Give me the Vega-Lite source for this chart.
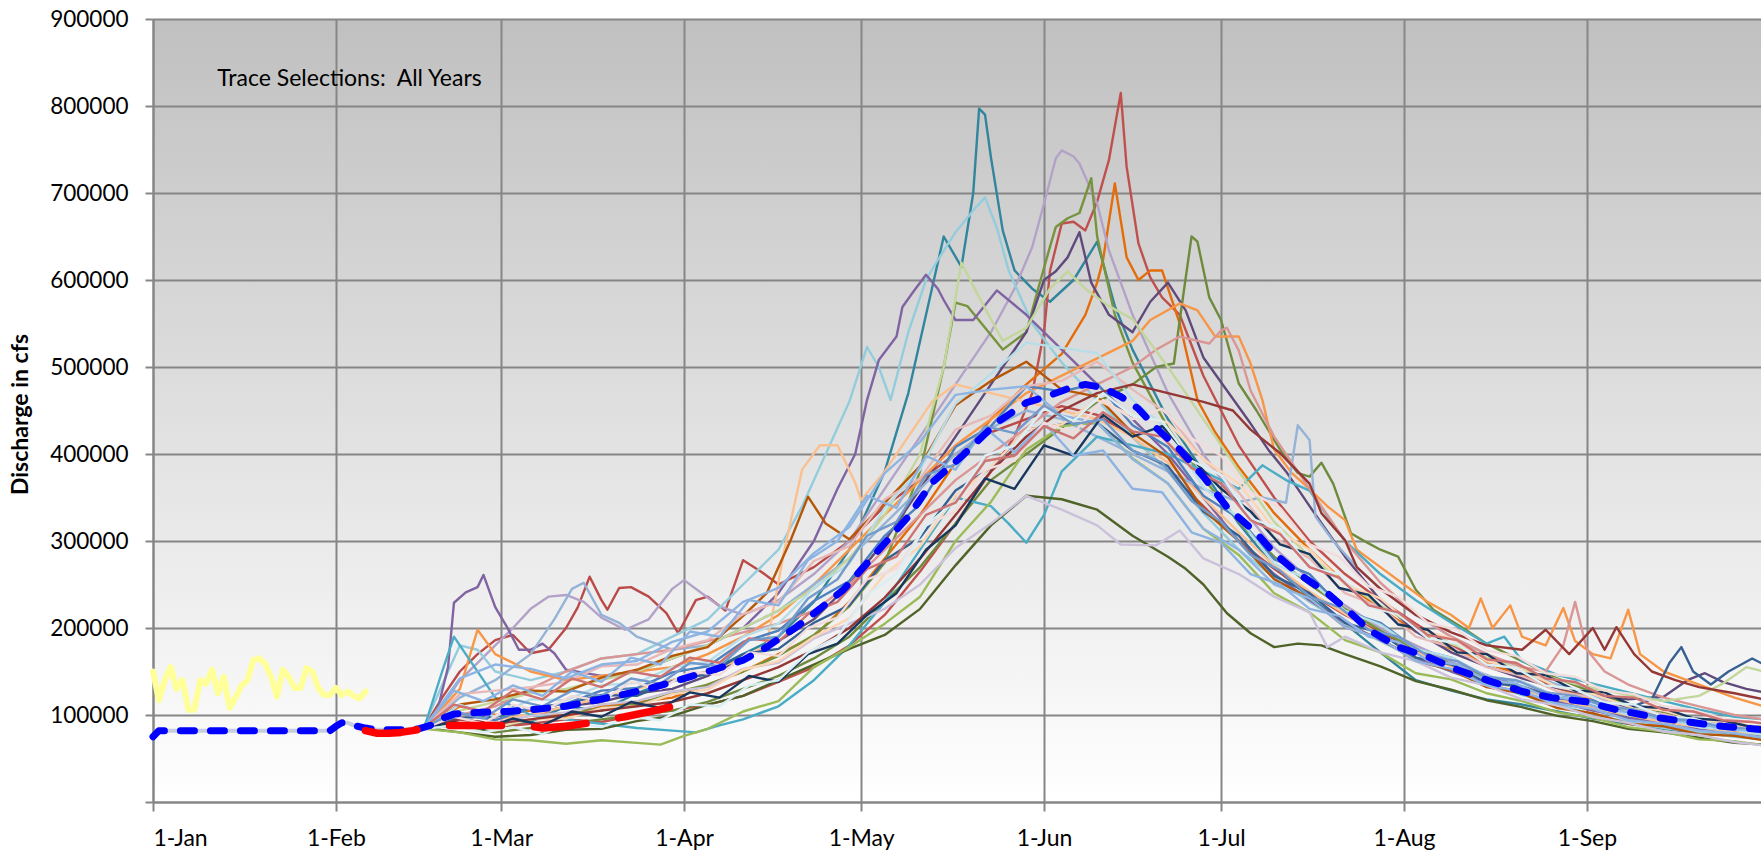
{
"$schema":"https://vega.github.io/schema/vega-lite/v6.json",
"width":1608,"height":783,
"autosize":{"type":"none"},
"padding":{"left":153,"top":19,"right":0,"bottom":49},
"background":"#ffffff",
"view":{"stroke":null,"fill":{"gradient":"linear","x1":0,"y1":0,"x2":0,"y2":1,"stops":[{"offset":0,"color":"#c0c0c0"},{"offset":1,"color":"#ffffff"}]}},
"config":{"font":"Lato","axis":{"domainColor":"#868686","domainWidth":2,"tickColor":"#868686","tickWidth":2,"gridColor":"#868686","gridWidth":2,"labelColor":"#000000","titleColor":"#000000","labelFont":"Lato","titleFont":"Lato"}},
"datasets":{
"tr":[
{"s":"A","d":46,"v":86000},{"s":"A","d":52,"v":95000},{"s":"A","d":58,"v":88000},{"s":"A","d":64,"v":92000},{"s":"A","d":70,"v":110000},{"s":"A","d":76,"v":105000},{"s":"A","d":82,"v":125000},{"s":"A","d":88,"v":140000},{"s":"A","d":94,"v":150000},{"s":"A","d":100,"v":170000},{"s":"A","d":106,"v":190000},{"s":"A","d":112,"v":230000},{"s":"A","d":118,"v":290000},{"s":"A","d":124,"v":380000},{"s":"A","d":128,"v":470000},{"s":"A","d":131,"v":560000},{"s":"A","d":134,"v":650000},{"s":"A","d":137,"v":615000},{"s":"A","d":139,"v":700000},{"s":"A","d":140,"v":797000},{"s":"A","d":141,"v":790000},{"s":"A","d":142,"v":741000},{"s":"A","d":144,"v":657000},{"s":"A","d":146,"v":611000},{"s":"A","d":149,"v":590000},{"s":"A","d":152,"v":575000},{"s":"A","d":156,"v":600000},{"s":"A","d":160,"v":644000},{"s":"A","d":163,"v":570000},{"s":"A","d":166,"v":520000},{"s":"A","d":172,"v":440000},{"s":"A","d":178,"v":380000},{"s":"A","d":184,"v":320000},{"s":"A","d":190,"v":270000},{"s":"A","d":196,"v":235000},{"s":"A","d":202,"v":205000},{"s":"A","d":208,"v":172000},{"s":"A","d":214,"v":140000},{"s":"A","d":220,"v":128000},{"s":"A","d":226,"v":118000},{"s":"A","d":232,"v":112000},{"s":"A","d":238,"v":104000},{"s":"A","d":244,"v":96000},{"s":"A","d":250,"v":90000},{"s":"A","d":256,"v":84000},{"s":"A","d":262,"v":79000},{"s":"A","d":268,"v":76000},{"s":"A","d":273,"v":74000},
{"s":"B","d":46,"v":84000},{"s":"B","d":52,"v":92000},{"s":"B","d":58,"v":86000},{"s":"B","d":64,"v":90000},{"s":"B","d":70,"v":95000},{"s":"B","d":76,"v":92000},{"s":"B","d":82,"v":100000},{"s":"B","d":88,"v":105000},{"s":"B","d":94,"v":112000},{"s":"B","d":100,"v":122000},{"s":"B","d":106,"v":138000},{"s":"B","d":112,"v":155000},{"s":"B","d":118,"v":180000},{"s":"B","d":124,"v":215000},{"s":"B","d":130,"v":265000},{"s":"B","d":136,"v":320000},{"s":"B","d":142,"v":380000},{"s":"B","d":146,"v":420000},{"s":"B","d":149,"v":470000},{"s":"B","d":151,"v":540000},{"s":"B","d":152,"v":610000},{"s":"B","d":154,"v":665000},{"s":"B","d":156,"v":667000},{"s":"B","d":158,"v":657000},{"s":"B","d":160,"v":690000},{"s":"B","d":162,"v":738000},{"s":"B","d":164,"v":815000},{"s":"B","d":165,"v":730000},{"s":"B","d":167,"v":642000},{"s":"B","d":169,"v":603000},{"s":"B","d":171,"v":580000},{"s":"B","d":174,"v":560000},{"s":"B","d":178,"v":490000},{"s":"B","d":184,"v":410000},{"s":"B","d":190,"v":350000},{"s":"B","d":196,"v":300000},{"s":"B","d":202,"v":262000},{"s":"B","d":208,"v":232000},{"s":"B","d":214,"v":205000},{"s":"B","d":220,"v":180000},{"s":"B","d":226,"v":162000},{"s":"B","d":232,"v":146000},{"s":"B","d":238,"v":132000},{"s":"B","d":244,"v":118000},{"s":"B","d":250,"v":107000},{"s":"B","d":256,"v":98000},{"s":"B","d":262,"v":91000},{"s":"B","d":268,"v":86000},{"s":"B","d":273,"v":83000},
{"s":"C","d":46,"v":86000},{"s":"C","d":49,"v":120000},{"s":"C","d":52,"v":150000},{"s":"C","d":55,"v":170000},{"s":"C","d":58,"v":186000},{"s":"C","d":61,"v":192000},{"s":"C","d":64,"v":171000},{"s":"C","d":67,"v":175000},{"s":"C","d":70,"v":200000},{"s":"C","d":72,"v":224000},{"s":"C","d":74,"v":259000},{"s":"C","d":76,"v":232000},{"s":"C","d":77,"v":221000},{"s":"C","d":79,"v":246000},{"s":"C","d":81,"v":247000},{"s":"C","d":84,"v":236000},{"s":"C","d":87,"v":217000},{"s":"C","d":89,"v":194000},{"s":"C","d":92,"v":232000},{"s":"C","d":94,"v":236000},{"s":"C","d":97,"v":220000},{"s":"C","d":100,"v":278000},{"s":"C","d":103,"v":265000},{"s":"C","d":106,"v":250000},{"s":"C","d":112,"v":270000},{"s":"C","d":118,"v":300000},{"s":"C","d":124,"v":340000},{"s":"C","d":130,"v":370000},{"s":"C","d":136,"v":400000},{"s":"C","d":142,"v":425000},{"s":"C","d":148,"v":440000},{"s":"C","d":154,"v":455000},{"s":"C","d":160,"v":445000},{"s":"C","d":166,"v":420000},{"s":"C","d":172,"v":380000},{"s":"C","d":178,"v":340000},{"s":"C","d":184,"v":300000},{"s":"C","d":190,"v":268000},{"s":"C","d":196,"v":240000},{"s":"C","d":202,"v":215000},{"s":"C","d":208,"v":195000},{"s":"C","d":214,"v":175000},{"s":"C","d":220,"v":160000},{"s":"C","d":226,"v":145000},{"s":"C","d":232,"v":132000},{"s":"C","d":238,"v":121000},{"s":"C","d":244,"v":110000},{"s":"C","d":250,"v":101000},{"s":"C","d":256,"v":93000},{"s":"C","d":262,"v":87000},{"s":"C","d":268,"v":81000},{"s":"C","d":273,"v":78000},
{"s":"D","d":46,"v":85000},{"s":"D","d":52,"v":110000},{"s":"D","d":58,"v":100000},{"s":"D","d":64,"v":105000},{"s":"D","d":70,"v":98000},{"s":"D","d":76,"v":110000},{"s":"D","d":82,"v":115000},{"s":"D","d":88,"v":120000},{"s":"D","d":94,"v":135000},{"s":"D","d":100,"v":150000},{"s":"D","d":106,"v":170000},{"s":"D","d":112,"v":190000},{"s":"D","d":118,"v":230000},{"s":"D","d":124,"v":280000},{"s":"D","d":130,"v":330000},{"s":"D","d":136,"v":390000},{"s":"D","d":142,"v":440000},{"s":"D","d":148,"v":480000},{"s":"D","d":154,"v":515000},{"s":"D","d":158,"v":560000},{"s":"D","d":160,"v":597000},{"s":"D","d":161,"v":623000},{"s":"D","d":163,"v":711000},{"s":"D","d":165,"v":626000},{"s":"D","d":167,"v":600000},{"s":"D","d":169,"v":611000},{"s":"D","d":171,"v":611000},{"s":"D","d":174,"v":550000},{"s":"D","d":177,"v":462000},{"s":"D","d":180,"v":425000},{"s":"D","d":184,"v":385000},{"s":"D","d":190,"v":332000},{"s":"D","d":196,"v":290000},{"s":"D","d":202,"v":252000},{"s":"D","d":208,"v":222000},{"s":"D","d":214,"v":196000},{"s":"D","d":220,"v":176000},{"s":"D","d":226,"v":160000},{"s":"D","d":232,"v":145000},{"s":"D","d":238,"v":131000},{"s":"D","d":244,"v":118000},{"s":"D","d":250,"v":106000},{"s":"D","d":256,"v":97000},{"s":"D","d":262,"v":89000},{"s":"D","d":268,"v":83000},{"s":"D","d":273,"v":80000},
{"s":"E","d":46,"v":88000},{"s":"E","d":49,"v":110000},{"s":"E","d":52,"v":140000},{"s":"E","d":55,"v":160000},{"s":"E","d":58,"v":180000},{"s":"E","d":61,"v":200000},{"s":"E","d":64,"v":222000},{"s":"E","d":67,"v":236000},{"s":"E","d":70,"v":238000},{"s":"E","d":73,"v":230000},{"s":"E","d":76,"v":212000},{"s":"E","d":80,"v":198000},{"s":"E","d":84,"v":210000},{"s":"E","d":88,"v":245000},{"s":"E","d":90,"v":255000},{"s":"E","d":93,"v":240000},{"s":"E","d":96,"v":225000},{"s":"E","d":100,"v":215000},{"s":"E","d":106,"v":232000},{"s":"E","d":112,"v":262000},{"s":"E","d":118,"v":300000},{"s":"E","d":124,"v":360000},{"s":"E","d":130,"v":420000},{"s":"E","d":136,"v":480000},{"s":"E","d":142,"v":540000},{"s":"E","d":146,"v":590000},{"s":"E","d":149,"v":638000},{"s":"E","d":151,"v":688000},{"s":"E","d":153,"v":740000},{"s":"E","d":154,"v":749000},{"s":"E","d":156,"v":742000},{"s":"E","d":157,"v":734000},{"s":"E","d":160,"v":688000},{"s":"E","d":162,"v":634000},{"s":"E","d":166,"v":560000},{"s":"E","d":172,"v":470000},{"s":"E","d":178,"v":400000},{"s":"E","d":184,"v":342000},{"s":"E","d":190,"v":292000},{"s":"E","d":196,"v":256000},{"s":"E","d":202,"v":226000},{"s":"E","d":208,"v":200000},{"s":"E","d":214,"v":180000},{"s":"E","d":220,"v":161000},{"s":"E","d":226,"v":146000},{"s":"E","d":232,"v":131000},{"s":"E","d":238,"v":118000},{"s":"E","d":244,"v":106000},{"s":"E","d":250,"v":96000},{"s":"E","d":256,"v":88000},{"s":"E","d":262,"v":82000},{"s":"E","d":268,"v":76000},{"s":"E","d":273,"v":73000},
{"s":"F","d":46,"v":84000},{"s":"F","d":52,"v":90000},{"s":"F","d":58,"v":85000},{"s":"F","d":64,"v":95000},{"s":"F","d":70,"v":100000},{"s":"F","d":76,"v":108000},{"s":"F","d":82,"v":112000},{"s":"F","d":88,"v":125000},{"s":"F","d":94,"v":135000},{"s":"F","d":100,"v":150000},{"s":"F","d":106,"v":168000},{"s":"F","d":112,"v":192000},{"s":"F","d":118,"v":225000},{"s":"F","d":124,"v":275000},{"s":"F","d":130,"v":380000},{"s":"F","d":134,"v":500000},{"s":"F","d":136,"v":574000},{"s":"F","d":138,"v":570000},{"s":"F","d":141,"v":545000},{"s":"F","d":144,"v":520000},{"s":"F","d":148,"v":540000},{"s":"F","d":150,"v":590000},{"s":"F","d":152,"v":638000},{"s":"F","d":153,"v":661000},{"s":"F","d":155,"v":671000},{"s":"F","d":157,"v":677000},{"s":"F","d":159,"v":717000},{"s":"F","d":160,"v":650000},{"s":"F","d":163,"v":560000},{"s":"F","d":166,"v":505000},{"s":"F","d":172,"v":430000},{"s":"F","d":178,"v":372000},{"s":"F","d":184,"v":322000},{"s":"F","d":190,"v":282000},{"s":"F","d":196,"v":250000},{"s":"F","d":202,"v":222000},{"s":"F","d":208,"v":197000},{"s":"F","d":214,"v":176000},{"s":"F","d":220,"v":158000},{"s":"F","d":226,"v":143000},{"s":"F","d":232,"v":130000},{"s":"F","d":238,"v":118000},{"s":"F","d":244,"v":107000},{"s":"F","d":250,"v":98000},{"s":"F","d":256,"v":90000},{"s":"F","d":262,"v":83000},{"s":"F","d":268,"v":78000},{"s":"F","d":273,"v":76000},
{"s":"G","d":46,"v":85000},{"s":"G","d":52,"v":88000},{"s":"G","d":58,"v":80000},{"s":"G","d":64,"v":85000},{"s":"G","d":70,"v":90000},{"s":"G","d":76,"v":95000},{"s":"G","d":82,"v":100000},{"s":"G","d":88,"v":105000},{"s":"G","d":94,"v":115000},{"s":"G","d":100,"v":130000},{"s":"G","d":106,"v":145000},{"s":"G","d":112,"v":165000},{"s":"G","d":118,"v":190000},{"s":"G","d":124,"v":230000},{"s":"G","d":130,"v":270000},{"s":"G","d":136,"v":320000},{"s":"G","d":142,"v":370000},{"s":"G","d":148,"v":400000},{"s":"G","d":154,"v":430000},{"s":"G","d":160,"v":460000},{"s":"G","d":166,"v":480000},{"s":"G","d":170,"v":500000},{"s":"G","d":173,"v":504000},{"s":"G","d":174,"v":554000},{"s":"G","d":176,"v":650000},{"s":"G","d":177,"v":644000},{"s":"G","d":179,"v":580000},{"s":"G","d":181,"v":554000},{"s":"G","d":184,"v":481000},{"s":"G","d":187,"v":450000},{"s":"G","d":191,"v":405000},{"s":"G","d":194,"v":378000},{"s":"G","d":196,"v":374000},{"s":"G","d":198,"v":390000},{"s":"G","d":200,"v":366000},{"s":"G","d":203,"v":309000},{"s":"G","d":205,"v":301000},{"s":"G","d":208,"v":290000},{"s":"G","d":211,"v":282000},{"s":"G","d":214,"v":244000},{"s":"G","d":217,"v":221000},{"s":"G","d":222,"v":200000},{"s":"G","d":226,"v":182000},{"s":"G","d":232,"v":162000},{"s":"G","d":238,"v":142000},{"s":"G","d":244,"v":126000},{"s":"G","d":250,"v":113000},{"s":"G","d":256,"v":103000},{"s":"G","d":262,"v":95000},{"s":"G","d":268,"v":89000},{"s":"G","d":273,"v":86000},
{"s":"H","d":46,"v":88000},{"s":"H","d":50,"v":150000},{"s":"H","d":52,"v":180000},{"s":"H","d":55,"v":175000},{"s":"H","d":58,"v":150000},{"s":"H","d":64,"v":140000},{"s":"H","d":70,"v":150000},{"s":"H","d":76,"v":165000},{"s":"H","d":82,"v":170000},{"s":"H","d":88,"v":190000},{"s":"H","d":94,"v":210000},{"s":"H","d":100,"v":250000},{"s":"H","d":106,"v":290000},{"s":"H","d":110,"v":340000},{"s":"H","d":114,"v":400000},{"s":"H","d":118,"v":460000},{"s":"H","d":121,"v":523000},{"s":"H","d":123,"v":500000},{"s":"H","d":125,"v":462000},{"s":"H","d":128,"v":540000},{"s":"H","d":131,"v":600000},{"s":"H","d":133,"v":623000},{"s":"H","d":136,"v":655000},{"s":"H","d":139,"v":680000},{"s":"H","d":141,"v":695000},{"s":"H","d":143,"v":660000},{"s":"H","d":145,"v":611000},{"s":"H","d":149,"v":550000},{"s":"H","d":154,"v":505000},{"s":"H","d":160,"v":462000},{"s":"H","d":166,"v":420000},{"s":"H","d":172,"v":380000},{"s":"H","d":178,"v":332000},{"s":"H","d":184,"v":290000},{"s":"H","d":190,"v":258000},{"s":"H","d":196,"v":230000},{"s":"H","d":202,"v":205000},{"s":"H","d":208,"v":185000},{"s":"H","d":214,"v":165000},{"s":"H","d":220,"v":150000},{"s":"H","d":226,"v":136000},{"s":"H","d":232,"v":123000},{"s":"H","d":238,"v":112000},{"s":"H","d":244,"v":101000},{"s":"H","d":250,"v":92000},{"s":"H","d":256,"v":85000},{"s":"H","d":262,"v":80000},{"s":"H","d":268,"v":75000},{"s":"H","d":273,"v":72000},
{"s":"I","d":46,"v":86000},{"s":"I","d":48,"v":100000},{"s":"I","d":50,"v":155000},{"s":"I","d":51,"v":229000},{"s":"I","d":53,"v":241000},{"s":"I","d":55,"v":247000},{"s":"I","d":56,"v":261000},{"s":"I","d":58,"v":224000},{"s":"I","d":60,"v":201000},{"s":"I","d":62,"v":175000},{"s":"I","d":64,"v":175000},{"s":"I","d":66,"v":182000},{"s":"I","d":68,"v":171000},{"s":"I","d":70,"v":152000},{"s":"I","d":76,"v":145000},{"s":"I","d":82,"v":150000},{"s":"I","d":88,"v":165000},{"s":"I","d":94,"v":180000},{"s":"I","d":100,"v":200000},{"s":"I","d":106,"v":240000},{"s":"I","d":112,"v":300000},{"s":"I","d":116,"v":360000},{"s":"I","d":119,"v":400000},{"s":"I","d":121,"v":462000},{"s":"I","d":123,"v":508000},{"s":"I","d":126,"v":535000},{"s":"I","d":127,"v":569000},{"s":"I","d":129,"v":588000},{"s":"I","d":131,"v":606000},{"s":"I","d":133,"v":590000},{"s":"I","d":134,"v":577000},{"s":"I","d":136,"v":554000},{"s":"I","d":139,"v":554000},{"s":"I","d":143,"v":588000},{"s":"I","d":148,"v":560000},{"s":"I","d":154,"v":520000},{"s":"I","d":160,"v":480000},{"s":"I","d":166,"v":440000},{"s":"I","d":172,"v":400000},{"s":"I","d":178,"v":350000},{"s":"I","d":184,"v":300000},{"s":"I","d":190,"v":262000},{"s":"I","d":196,"v":232000},{"s":"I","d":202,"v":206000},{"s":"I","d":208,"v":186000},{"s":"I","d":214,"v":166000},{"s":"I","d":220,"v":150000},{"s":"I","d":226,"v":136000},{"s":"I","d":232,"v":125000},{"s":"I","d":238,"v":115000},{"s":"I","d":244,"v":105000},{"s":"I","d":250,"v":97000},{"s":"I","d":256,"v":90000},{"s":"I","d":262,"v":84000},{"s":"I","d":268,"v":79000},{"s":"I","d":273,"v":77000},
{"s":"J","d":46,"v":85000},{"s":"J","d":52,"v":95000},{"s":"J","d":58,"v":90000},{"s":"J","d":64,"v":100000},{"s":"J","d":70,"v":110000},{"s":"J","d":76,"v":115000},{"s":"J","d":82,"v":125000},{"s":"J","d":88,"v":130000},{"s":"J","d":94,"v":145000},{"s":"J","d":100,"v":165000},{"s":"J","d":106,"v":185000},{"s":"J","d":112,"v":210000},{"s":"J","d":118,"v":250000},{"s":"J","d":124,"v":300000},{"s":"J","d":130,"v":360000},{"s":"J","d":136,"v":420000},{"s":"J","d":142,"v":480000},{"s":"J","d":148,"v":540000},{"s":"J","d":151,"v":600000},{"s":"J","d":153,"v":610000},{"s":"J","d":155,"v":626000},{"s":"J","d":157,"v":655000},{"s":"J","d":159,"v":597000},{"s":"J","d":162,"v":560000},{"s":"J","d":166,"v":540000},{"s":"J","d":169,"v":575000},{"s":"J","d":172,"v":597000},{"s":"J","d":175,"v":565000},{"s":"J","d":178,"v":511000},{"s":"J","d":182,"v":473000},{"s":"J","d":186,"v":435000},{"s":"J","d":189,"v":405000},{"s":"J","d":192,"v":380000},{"s":"J","d":196,"v":340000},{"s":"J","d":202,"v":282000},{"s":"J","d":208,"v":232000},{"s":"J","d":214,"v":196000},{"s":"J","d":220,"v":172000},{"s":"J","d":226,"v":156000},{"s":"J","d":232,"v":142000},{"s":"J","d":238,"v":131000},{"s":"J","d":244,"v":123000},{"s":"J","d":250,"v":118000},{"s":"J","d":256,"v":121000},{"s":"J","d":260,"v":140000},{"s":"J","d":263,"v":148000},{"s":"J","d":266,"v":138000},{"s":"J","d":270,"v":130000},{"s":"J","d":273,"v":126000},
{"s":"K","d":46,"v":85000},{"s":"K","d":52,"v":130000},{"s":"K","d":55,"v":198000},{"s":"K","d":58,"v":170000},{"s":"K","d":64,"v":150000},{"s":"K","d":70,"v":140000},{"s":"K","d":76,"v":145000},{"s":"K","d":82,"v":150000},{"s":"K","d":88,"v":155000},{"s":"K","d":94,"v":170000},{"s":"K","d":100,"v":190000},{"s":"K","d":106,"v":215000},{"s":"K","d":112,"v":250000},{"s":"K","d":118,"v":290000},{"s":"K","d":124,"v":330000},{"s":"K","d":130,"v":370000},{"s":"K","d":136,"v":410000},{"s":"K","d":142,"v":440000},{"s":"K","d":148,"v":470000},{"s":"K","d":154,"v":490000},{"s":"K","d":160,"v":510000},{"s":"K","d":166,"v":530000},{"s":"K","d":169,"v":554000},{"s":"K","d":174,"v":573000},{"s":"K","d":177,"v":565000},{"s":"K","d":180,"v":535000},{"s":"K","d":184,"v":535000},{"s":"K","d":186,"v":504000},{"s":"K","d":188,"v":462000},{"s":"K","d":190,"v":405000},{"s":"K","d":193,"v":378000},{"s":"K","d":195,"v":366000},{"s":"K","d":199,"v":340000},{"s":"K","d":202,"v":324000},{"s":"K","d":204,"v":290000},{"s":"K","d":208,"v":270000},{"s":"K","d":212,"v":250000},{"s":"K","d":216,"v":230000},{"s":"K","d":220,"v":215000},{"s":"K","d":223,"v":200000},{"s":"K","d":225,"v":234000},{"s":"K","d":227,"v":200000},{"s":"K","d":230,"v":226000},{"s":"K","d":232,"v":190000},{"s":"K","d":236,"v":180000},{"s":"K","d":239,"v":223000},{"s":"K","d":241,"v":185000},{"s":"K","d":244,"v":170000},{"s":"K","d":247,"v":165000},{"s":"K","d":250,"v":221000},{"s":"K","d":252,"v":170000},{"s":"K","d":256,"v":150000},{"s":"K","d":262,"v":135000},{"s":"K","d":268,"v":120000},{"s":"K","d":273,"v":110000},
{"s":"L","d":46,"v":84000},{"s":"L","d":52,"v":100000},{"s":"L","d":58,"v":95000},{"s":"L","d":64,"v":100000},{"s":"L","d":70,"v":110000},{"s":"L","d":76,"v":120000},{"s":"L","d":82,"v":130000},{"s":"L","d":88,"v":140000},{"s":"L","d":94,"v":150000},{"s":"L","d":100,"v":165000},{"s":"L","d":104,"v":180000},{"s":"L","d":107,"v":290000},{"s":"L","d":110,"v":382000},{"s":"L","d":113,"v":410000},{"s":"L","d":116,"v":410000},{"s":"L","d":119,"v":367000},{"s":"L","d":120,"v":347000},{"s":"L","d":124,"v":380000},{"s":"L","d":128,"v":420000},{"s":"L","d":132,"v":460000},{"s":"L","d":136,"v":480000},{"s":"L","d":142,"v":470000},{"s":"L","d":148,"v":460000},{"s":"L","d":154,"v":450000},{"s":"L","d":160,"v":440000},{"s":"L","d":166,"v":420000},{"s":"L","d":172,"v":390000},{"s":"L","d":178,"v":350000},{"s":"L","d":184,"v":310000},{"s":"L","d":190,"v":272000},{"s":"L","d":196,"v":242000},{"s":"L","d":202,"v":216000},{"s":"L","d":208,"v":192000},{"s":"L","d":214,"v":172000},{"s":"L","d":220,"v":156000},{"s":"L","d":226,"v":141000},{"s":"L","d":232,"v":129000},{"s":"L","d":238,"v":118000},{"s":"L","d":244,"v":108000},{"s":"L","d":250,"v":100000},{"s":"L","d":256,"v":92000},{"s":"L","d":262,"v":86000},{"s":"L","d":268,"v":80000},{"s":"L","d":273,"v":78000},
{"s":"M","d":46,"v":86000},{"s":"M","d":52,"v":120000},{"s":"M","d":58,"v":140000},{"s":"M","d":64,"v":170000},{"s":"M","d":68,"v":210000},{"s":"M","d":71,"v":245000},{"s":"M","d":73,"v":252000},{"s":"M","d":76,"v":215000},{"s":"M","d":79,"v":206000},{"s":"M","d":82,"v":190000},{"s":"M","d":88,"v":175000},{"s":"M","d":94,"v":180000},{"s":"M","d":100,"v":200000},{"s":"M","d":106,"v":220000},{"s":"M","d":112,"v":250000},{"s":"M","d":118,"v":280000},{"s":"M","d":124,"v":320000},{"s":"M","d":130,"v":360000},{"s":"M","d":136,"v":400000},{"s":"M","d":142,"v":430000},{"s":"M","d":148,"v":450000},{"s":"M","d":154,"v":440000},{"s":"M","d":160,"v":420000},{"s":"M","d":166,"v":400000},{"s":"M","d":172,"v":380000},{"s":"M","d":178,"v":360000},{"s":"M","d":184,"v":345000},{"s":"M","d":188,"v":350000},{"s":"M","d":192,"v":344000},{"s":"M","d":194,"v":433000},{"s":"M","d":196,"v":416000},{"s":"M","d":197,"v":328000},{"s":"M","d":200,"v":300000},{"s":"M","d":204,"v":270000},{"s":"M","d":208,"v":245000},{"s":"M","d":214,"v":215000},{"s":"M","d":220,"v":190000},{"s":"M","d":226,"v":170000},{"s":"M","d":232,"v":150000},{"s":"M","d":238,"v":135000},{"s":"M","d":244,"v":122000},{"s":"M","d":250,"v":110000},{"s":"M","d":256,"v":100000},{"s":"M","d":262,"v":93000},{"s":"M","d":268,"v":88000},{"s":"M","d":273,"v":85000},
{"s":"N","d":46,"v":86000},{"s":"N","d":49,"v":150000},{"s":"N","d":51,"v":190000},{"s":"N","d":53,"v":170000},{"s":"N","d":56,"v":140000},{"s":"N","d":58,"v":120000},{"s":"N","d":64,"v":100000},{"s":"N","d":70,"v":95000},{"s":"N","d":76,"v":90000},{"s":"N","d":82,"v":85000},{"s":"N","d":88,"v":82000},{"s":"N","d":92,"v":80000},{"s":"N","d":96,"v":88000},{"s":"N","d":100,"v":95000},{"s":"N","d":106,"v":110000},{"s":"N","d":112,"v":140000},{"s":"N","d":118,"v":180000},{"s":"N","d":124,"v":230000},{"s":"N","d":130,"v":290000},{"s":"N","d":136,"v":350000},{"s":"N","d":142,"v":340000},{"s":"N","d":145,"v":320000},{"s":"N","d":148,"v":298000},{"s":"N","d":151,"v":330000},{"s":"N","d":154,"v":380000},{"s":"N","d":160,"v":420000},{"s":"N","d":166,"v":410000},{"s":"N","d":172,"v":400000},{"s":"N","d":178,"v":380000},{"s":"N","d":184,"v":360000},{"s":"N","d":188,"v":387000},{"s":"N","d":192,"v":370000},{"s":"N","d":196,"v":358000},{"s":"N","d":202,"v":300000},{"s":"N","d":208,"v":262000},{"s":"N","d":214,"v":232000},{"s":"N","d":220,"v":206000},{"s":"N","d":226,"v":182000},{"s":"N","d":229,"v":190000},{"s":"N","d":232,"v":162000},{"s":"N","d":238,"v":146000},{"s":"N","d":244,"v":136000},{"s":"N","d":250,"v":126000},{"s":"N","d":256,"v":116000},{"s":"N","d":262,"v":106000},{"s":"N","d":268,"v":98000},{"s":"N","d":273,"v":95000},
{"s":"O","d":46,"v":85000},{"s":"O","d":52,"v":100000},{"s":"O","d":58,"v":110000},{"s":"O","d":64,"v":130000},{"s":"O","d":70,"v":150000},{"s":"O","d":76,"v":165000},{"s":"O","d":82,"v":170000},{"s":"O","d":88,"v":175000},{"s":"O","d":94,"v":185000},{"s":"O","d":100,"v":195000},{"s":"O","d":106,"v":205000},{"s":"O","d":112,"v":220000},{"s":"O","d":118,"v":250000},{"s":"O","d":124,"v":290000},{"s":"O","d":130,"v":330000},{"s":"O","d":136,"v":370000},{"s":"O","d":142,"v":400000},{"s":"O","d":148,"v":430000},{"s":"O","d":154,"v":460000},{"s":"O","d":160,"v":480000},{"s":"O","d":166,"v":500000},{"s":"O","d":170,"v":520000},{"s":"O","d":174,"v":535000},{"s":"O","d":179,"v":527000},{"s":"O","d":181,"v":542000},{"s":"O","d":182,"v":545000},{"s":"O","d":184,"v":519000},{"s":"O","d":186,"v":473000},{"s":"O","d":190,"v":420000},{"s":"O","d":196,"v":360000},{"s":"O","d":202,"v":300000},{"s":"O","d":208,"v":252000},{"s":"O","d":214,"v":216000},{"s":"O","d":220,"v":190000},{"s":"O","d":226,"v":170000},{"s":"O","d":232,"v":155000},{"s":"O","d":236,"v":150000},{"s":"O","d":239,"v":180000},{"s":"O","d":241,"v":230000},{"s":"O","d":243,"v":175000},{"s":"O","d":246,"v":150000},{"s":"O","d":250,"v":135000},{"s":"O","d":256,"v":120000},{"s":"O","d":262,"v":110000},{"s":"O","d":268,"v":100000},{"s":"O","d":273,"v":95000},
{"s":"P","d":46,"v":85000},{"s":"P","d":52,"v":80000},{"s":"P","d":58,"v":75000},{"s":"P","d":64,"v":77000},{"s":"P","d":70,"v":83000},{"s":"P","d":76,"v":84000},{"s":"P","d":82,"v":93000},{"s":"P","d":88,"v":99000},{"s":"P","d":94,"v":112000},{"s":"P","d":100,"v":122000},{"s":"P","d":106,"v":140000},{"s":"P","d":112,"v":158000},{"s":"P","d":118,"v":176000},{"s":"P","d":124,"v":192000},{"s":"P","d":130,"v":222000},{"s":"P","d":136,"v":272000},{"s":"P","d":142,"v":318000},{"s":"P","d":148,"v":352000},{"s":"P","d":154,"v":348000},{"s":"P","d":160,"v":336000},{"s":"P","d":166,"v":306000},{"s":"P","d":172,"v":282000},{"s":"P","d":175,"v":268000},{"s":"P","d":178,"v":250000},{"s":"P","d":182,"v":217000},{"s":"P","d":186,"v":194000},{"s":"P","d":190,"v":178000},{"s":"P","d":194,"v":182000},{"s":"P","d":198,"v":180000},{"s":"P","d":202,"v":170000},{"s":"P","d":208,"v":156000},{"s":"P","d":214,"v":139000},{"s":"P","d":220,"v":129000},{"s":"P","d":226,"v":117000},{"s":"P","d":232,"v":109000},{"s":"P","d":238,"v":99000},{"s":"P","d":244,"v":93000},{"s":"P","d":250,"v":84000},{"s":"P","d":256,"v":80000},{"s":"P","d":262,"v":74000},{"s":"P","d":268,"v":68000},{"s":"P","d":273,"v":66000},
{"s":"Q","d":46,"v":86000},{"s":"Q","d":52,"v":97000},{"s":"Q","d":58,"v":98000},{"s":"Q","d":64,"v":108000},{"s":"Q","d":70,"v":113000},{"s":"Q","d":76,"v":123000},{"s":"Q","d":82,"v":122000},{"s":"Q","d":88,"v":139000},{"s":"Q","d":94,"v":147000},{"s":"Q","d":100,"v":170000},{"s":"Q","d":106,"v":176000},{"s":"Q","d":112,"v":206000},{"s":"Q","d":118,"v":226000},{"s":"Q","d":124,"v":278000},{"s":"Q","d":130,"v":304000},{"s":"Q","d":136,"v":358000},{"s":"Q","d":142,"v":384000},{"s":"Q","d":148,"v":428000},{"s":"Q","d":154,"v":434000},{"s":"Q","d":160,"v":436000},{"s":"Q","d":166,"v":404000},{"s":"Q","d":172,"v":386000},{"s":"Q","d":178,"v":334000},{"s":"Q","d":184,"v":306000},{"s":"Q","d":190,"v":260000},{"s":"Q","d":196,"v":240000},{"s":"Q","d":202,"v":206000},{"s":"Q","d":208,"v":194000},{"s":"Q","d":214,"v":166000},{"s":"Q","d":220,"v":158000},{"s":"Q","d":226,"v":137000},{"s":"Q","d":232,"v":133000},{"s":"Q","d":238,"v":119000},{"s":"Q","d":244,"v":117000},{"s":"Q","d":250,"v":108000},{"s":"Q","d":254,"v":118000},{"s":"Q","d":257,"v":160000},{"s":"Q","d":259,"v":178000},{"s":"Q","d":261,"v":150000},{"s":"Q","d":264,"v":135000},{"s":"Q","d":267,"v":150000},{"s":"Q","d":271,"v":165000},{"s":"Q","d":273,"v":158000},
{"s":"R","d":46,"v":84000},{"s":"R","d":52,"v":105000},{"s":"R","d":58,"v":115000},{"s":"R","d":64,"v":125000},{"s":"R","d":70,"v":130000},{"s":"R","d":76,"v":140000},{"s":"R","d":82,"v":150000},{"s":"R","d":88,"v":165000},{"s":"R","d":94,"v":180000},{"s":"R","d":100,"v":200000},{"s":"R","d":106,"v":220000},{"s":"R","d":112,"v":245000},{"s":"R","d":118,"v":280000},{"s":"R","d":124,"v":330000},{"s":"R","d":130,"v":400000},{"s":"R","d":134,"v":500000},{"s":"R","d":137,"v":620000},{"s":"R","d":140,"v":580000},{"s":"R","d":144,"v":530000},{"s":"R","d":148,"v":545000},{"s":"R","d":152,"v":590000},{"s":"R","d":155,"v":610000},{"s":"R","d":158,"v":590000},{"s":"R","d":162,"v":570000},{"s":"R","d":166,"v":555000},{"s":"R","d":172,"v":500000},{"s":"R","d":178,"v":440000},{"s":"R","d":184,"v":380000},{"s":"R","d":190,"v":322000},{"s":"R","d":196,"v":282000},{"s":"R","d":202,"v":252000},{"s":"R","d":208,"v":226000},{"s":"R","d":214,"v":202000},{"s":"R","d":220,"v":182000},{"s":"R","d":226,"v":166000},{"s":"R","d":232,"v":152000},{"s":"R","d":238,"v":141000},{"s":"R","d":244,"v":131000},{"s":"R","d":250,"v":123000},{"s":"R","d":256,"v":116000},{"s":"R","d":262,"v":122000},{"s":"R","d":266,"v":136000},{"s":"R","d":270,"v":155000},{"s":"R","d":273,"v":150000},
{"s":"S","d":46,"v":84000},{"s":"S","d":52,"v":80000},{"s":"S","d":58,"v":72000},{"s":"S","d":64,"v":71000},{"s":"S","d":70,"v":67000},{"s":"S","d":76,"v":71000},{"s":"S","d":82,"v":68000},{"s":"S","d":86,"v":66000},{"s":"S","d":90,"v":76000},{"s":"S","d":94,"v":84000},{"s":"S","d":100,"v":104000},{"s":"S","d":106,"v":116000},{"s":"S","d":112,"v":155000},{"s":"S","d":118,"v":178000},{"s":"S","d":124,"v":205000},{"s":"S","d":130,"v":236000},{"s":"S","d":136,"v":300000},{"s":"S","d":142,"v":345000},{"s":"S","d":148,"v":405000},{"s":"S","d":154,"v":432000},{"s":"S","d":160,"v":436000},{"s":"S","d":166,"v":395000},{"s":"S","d":172,"v":366000},{"s":"S","d":178,"v":314000},{"s":"S","d":184,"v":284000},{"s":"S","d":190,"v":240000},{"s":"S","d":196,"v":218000},{"s":"S","d":202,"v":186000},{"s":"S","d":208,"v":172000},{"s":"S","d":214,"v":148000},{"s":"S","d":220,"v":141000},{"s":"S","d":226,"v":125000},{"s":"S","d":232,"v":116000},{"s":"S","d":238,"v":103000},{"s":"S","d":244,"v":97000},{"s":"S","d":250,"v":86000},{"s":"S","d":256,"v":81000},{"s":"S","d":262,"v":72000},{"s":"S","d":268,"v":70000},{"s":"S","d":273,"v":65000},
{"s":"T","d":46,"v":86000},{"s":"T","d":52,"v":112000},{"s":"T","d":58,"v":118000},{"s":"T","d":64,"v":128000},{"s":"T","d":70,"v":127000},{"s":"T","d":76,"v":143000},{"s":"T","d":82,"v":152000},{"s":"T","d":88,"v":168000},{"s":"T","d":94,"v":178000},{"s":"T","d":100,"v":214000},{"s":"T","d":104,"v":240000},{"s":"T","d":108,"v":300000},{"s":"T","d":111,"v":351000},{"s":"T","d":114,"v":320000},{"s":"T","d":118,"v":302000},{"s":"T","d":124,"v":344000},{"s":"T","d":130,"v":386000},{"s":"T","d":136,"v":456000},{"s":"T","d":142,"v":484000},{"s":"T","d":148,"v":506000},{"s":"T","d":154,"v":474000},{"s":"T","d":160,"v":466000},{"s":"T","d":166,"v":424000},{"s":"T","d":172,"v":396000},{"s":"T","d":178,"v":336000},{"s":"T","d":184,"v":300000},{"s":"T","d":190,"v":256000},{"s":"T","d":196,"v":234000},{"s":"T","d":202,"v":201000},{"s":"T","d":208,"v":188000},{"s":"T","d":214,"v":162000},{"s":"T","d":220,"v":152000},{"s":"T","d":226,"v":132000},{"s":"T","d":232,"v":125000},{"s":"T","d":238,"v":108000},{"s":"T","d":244,"v":102000},{"s":"T","d":250,"v":90000},{"s":"T","d":256,"v":87000},{"s":"T","d":262,"v":78000},{"s":"T","d":268,"v":76000},{"s":"T","d":273,"v":71000},
{"s":"U","d":46,"v":85000},{"s":"U","d":52,"v":93000},{"s":"U","d":58,"v":91000},{"s":"U","d":64,"v":99000},{"s":"U","d":70,"v":103000},{"s":"U","d":76,"v":112000},{"s":"U","d":82,"v":116000},{"s":"U","d":88,"v":127000},{"s":"U","d":94,"v":132000},{"s":"U","d":100,"v":153000},{"s":"U","d":106,"v":160000},{"s":"U","d":112,"v":188000},{"s":"U","d":118,"v":205000},{"s":"U","d":124,"v":222000},{"s":"U","d":130,"v":250000},{"s":"U","d":136,"v":292000},{"s":"U","d":142,"v":320000},{"s":"U","d":148,"v":352000},{"s":"U","d":154,"v":336000},{"s":"U","d":160,"v":318000},{"s":"U","d":164,"v":296000},{"s":"U","d":170,"v":295000},{"s":"U","d":174,"v":312000},{"s":"U","d":178,"v":280000},{"s":"U","d":184,"v":262000},{"s":"U","d":190,"v":236000},{"s":"U","d":196,"v":218000},{"s":"U","d":199,"v":178000},{"s":"U","d":202,"v":190000},{"s":"U","d":208,"v":172000},{"s":"U","d":214,"v":162000},{"s":"U","d":220,"v":143000},{"s":"U","d":226,"v":134000},{"s":"U","d":232,"v":118000},{"s":"U","d":238,"v":111000},{"s":"U","d":244,"v":98000},{"s":"U","d":250,"v":91000},{"s":"U","d":256,"v":81000},{"s":"U","d":262,"v":77000},{"s":"U","d":268,"v":69000},{"s":"U","d":273,"v":65000},
{"s":"V","d":46,"v":85000},{"s":"V","d":52,"v":102000},{"s":"V","d":58,"v":94000},{"s":"V","d":64,"v":108000},{"s":"V","d":70,"v":113000},{"s":"V","d":76,"v":128000},{"s":"V","d":82,"v":131000},{"s":"V","d":88,"v":149000},{"s":"V","d":94,"v":156000},{"s":"V","d":100,"v":184000},{"s":"V","d":106,"v":197000},{"s":"V","d":112,"v":231000},{"s":"V","d":118,"v":254000},{"s":"V","d":124,"v":306000},{"s":"V","d":130,"v":342000},{"s":"V","d":136,"v":408000},{"s":"V","d":142,"v":432000},{"s":"V","d":148,"v":478000},{"s":"V","d":154,"v":472000},{"s":"V","d":160,"v":481000},{"s":"V","d":166,"v":433000},{"s":"V","d":172,"v":408000},{"s":"V","d":178,"v":352000},{"s":"V","d":184,"v":326000},{"s":"V","d":190,"v":279000},{"s":"V","d":196,"v":262000},{"s":"V","d":202,"v":219000},{"s":"V","d":208,"v":206000},{"s":"V","d":214,"v":176000},{"s":"V","d":220,"v":166000},{"s":"V","d":226,"v":144000},{"s":"V","d":232,"v":138000},{"s":"V","d":238,"v":121000},{"s":"V","d":244,"v":117000},{"s":"V","d":250,"v":102000},{"s":"V","d":256,"v":98000},{"s":"V","d":262,"v":88000},{"s":"V","d":268,"v":85000},{"s":"V","d":273,"v":80000},
{"s":"W","d":46,"v":86000},{"s":"W","d":52,"v":124000},{"s":"W","d":58,"v":128000},{"s":"W","d":64,"v":132000},{"s":"W","d":70,"v":138000},{"s":"W","d":76,"v":156000},{"s":"W","d":82,"v":158000},{"s":"W","d":88,"v":176000},{"s":"W","d":94,"v":186000},{"s":"W","d":100,"v":216000},{"s":"W","d":106,"v":230000},{"s":"W","d":112,"v":277000},{"s":"W","d":118,"v":294000},{"s":"W","d":124,"v":348000},{"s":"W","d":130,"v":372000},{"s":"W","d":136,"v":428000},{"s":"W","d":142,"v":444000},{"s":"W","d":148,"v":478000},{"s":"W","d":154,"v":484000},{"s":"W","d":160,"v":506000},{"s":"W","d":166,"v":474000},{"s":"W","d":172,"v":446000},{"s":"W","d":178,"v":394000},{"s":"W","d":184,"v":356000},{"s":"W","d":190,"v":304000},{"s":"W","d":196,"v":280000},{"s":"W","d":202,"v":240000},{"s":"W","d":208,"v":224000},{"s":"W","d":214,"v":190000},{"s":"W","d":220,"v":178000},{"s":"W","d":226,"v":155000},{"s":"W","d":232,"v":145000},{"s":"W","d":238,"v":127000},{"s":"W","d":244,"v":120000},{"s":"W","d":250,"v":106000},{"s":"W","d":256,"v":101000},{"s":"W","d":262,"v":91000},{"s":"W","d":268,"v":87000},{"s":"W","d":273,"v":82000},
{"s":"X","d":46,"v":84000},{"s":"X","d":52,"v":112000},{"s":"X","d":58,"v":98000},{"s":"X","d":64,"v":118000},{"s":"X","d":70,"v":117000},{"s":"X","d":76,"v":134000},{"s":"X","d":82,"v":137000},{"s":"X","d":88,"v":155000},{"s":"X","d":94,"v":161000},{"s":"X","d":100,"v":190000},{"s":"X","d":106,"v":205000},{"s":"X","d":112,"v":246000},{"s":"X","d":118,"v":274000},{"s":"X","d":124,"v":338000},{"s":"X","d":130,"v":382000},{"s":"X","d":136,"v":458000},{"s":"X","d":142,"v":492000},{"s":"X","d":148,"v":528000},{"s":"X","d":154,"v":522000},{"s":"X","d":160,"v":516000},{"s":"X","d":166,"v":462000},{"s":"X","d":172,"v":428000},{"s":"X","d":178,"v":362000},{"s":"X","d":184,"v":326000},{"s":"X","d":190,"v":274000},{"s":"X","d":196,"v":255000},{"s":"X","d":202,"v":220000},{"s":"X","d":208,"v":204000},{"s":"X","d":214,"v":176000},{"s":"X","d":220,"v":166000},{"s":"X","d":226,"v":145000},{"s":"X","d":232,"v":138000},{"s":"X","d":238,"v":121000},{"s":"X","d":244,"v":114000},{"s":"X","d":250,"v":100000},{"s":"X","d":256,"v":96000},{"s":"X","d":262,"v":86000},{"s":"X","d":268,"v":83000},{"s":"X","d":273,"v":77000},
{"s":"Y","d":46,"v":85000},{"s":"Y","d":52,"v":92000},{"s":"Y","d":58,"v":86000},{"s":"Y","d":64,"v":95000},{"s":"Y","d":70,"v":96000},{"s":"Y","d":76,"v":108000},{"s":"Y","d":82,"v":110000},{"s":"Y","d":88,"v":124000},{"s":"Y","d":94,"v":129000},{"s":"Y","d":100,"v":152000},{"s":"Y","d":106,"v":162000},{"s":"Y","d":112,"v":190000},{"s":"Y","d":118,"v":211000},{"s":"Y","d":124,"v":262000},{"s":"Y","d":130,"v":294000},{"s":"Y","d":136,"v":352000},{"s":"Y","d":142,"v":385000},{"s":"Y","d":148,"v":428000},{"s":"Y","d":154,"v":434000},{"s":"Y","d":160,"v":462000},{"s":"Y","d":166,"v":444000},{"s":"Y","d":172,"v":436000},{"s":"Y","d":178,"v":394000},{"s":"Y","d":184,"v":366000},{"s":"Y","d":190,"v":314000},{"s":"Y","d":196,"v":290000},{"s":"Y","d":202,"v":250000},{"s":"Y","d":208,"v":234000},{"s":"Y","d":214,"v":200000},{"s":"Y","d":220,"v":188000},{"s":"Y","d":226,"v":162000},{"s":"Y","d":232,"v":152000},{"s":"Y","d":238,"v":132000},{"s":"Y","d":244,"v":124000},{"s":"Y","d":250,"v":110000},{"s":"Y","d":256,"v":105000},{"s":"Y","d":262,"v":94000},{"s":"Y","d":268,"v":91000},{"s":"Y","d":273,"v":85000},
{"s":"Z","d":46,"v":86000},{"s":"Z","d":52,"v":142000},{"s":"Z","d":58,"v":158000},{"s":"Z","d":64,"v":153000},{"s":"Z","d":70,"v":142000},{"s":"Z","d":76,"v":158000},{"s":"Z","d":82,"v":162000},{"s":"Z","d":88,"v":184000},{"s":"Z","d":94,"v":196000},{"s":"Z","d":100,"v":230000},{"s":"Z","d":106,"v":246000},{"s":"Z","d":112,"v":286000},{"s":"Z","d":118,"v":316000},{"s":"Z","d":124,"v":378000},{"s":"Z","d":130,"v":414000},{"s":"Z","d":136,"v":468000},{"s":"Z","d":142,"v":474000},{"s":"Z","d":148,"v":478000},{"s":"Z","d":154,"v":444000},{"s":"Z","d":160,"v":436000},{"s":"Z","d":166,"v":394000},{"s":"Z","d":172,"v":366000},{"s":"Z","d":178,"v":314000},{"s":"Z","d":184,"v":290000},{"s":"Z","d":190,"v":250000},{"s":"Z","d":196,"v":234000},{"s":"Z","d":202,"v":201000},{"s":"Z","d":208,"v":188000},{"s":"Z","d":214,"v":162000},{"s":"Z","d":220,"v":153000},{"s":"Z","d":226,"v":134000},{"s":"Z","d":232,"v":127000},{"s":"Z","d":238,"v":113000},{"s":"Z","d":244,"v":107000},{"s":"Z","d":250,"v":94000},{"s":"Z","d":256,"v":90000},{"s":"Z","d":262,"v":82000},{"s":"Z","d":268,"v":79000},{"s":"Z","d":273,"v":74000},
{"s":"AA","d":46,"v":85000},{"s":"AA","d":52,"v":95000},{"s":"AA","d":58,"v":90000},{"s":"AA","d":64,"v":95000},{"s":"AA","d":70,"v":100000},{"s":"AA","d":76,"v":105000},{"s":"AA","d":82,"v":110000},{"s":"AA","d":88,"v":115000},{"s":"AA","d":94,"v":125000},{"s":"AA","d":100,"v":140000},{"s":"AA","d":106,"v":155000},{"s":"AA","d":112,"v":175000},{"s":"AA","d":118,"v":200000},{"s":"AA","d":124,"v":235000},{"s":"AA","d":130,"v":280000},{"s":"AA","d":136,"v":330000},{"s":"AA","d":142,"v":380000},{"s":"AA","d":148,"v":420000},{"s":"AA","d":154,"v":450000},{"s":"AA","d":160,"v":470000},{"s":"AA","d":166,"v":480000},{"s":"AA","d":172,"v":470000},{"s":"AA","d":178,"v":460000},{"s":"AA","d":183,"v":450000},{"s":"AA","d":186,"v":428000},{"s":"AA","d":191,"v":401000},{"s":"AA","d":196,"v":366000},{"s":"AA","d":198,"v":332000},{"s":"AA","d":202,"v":301000},{"s":"AA","d":204,"v":270000},{"s":"AA","d":208,"v":245000},{"s":"AA","d":214,"v":215000},{"s":"AA","d":220,"v":195000},{"s":"AA","d":226,"v":180000},{"s":"AA","d":232,"v":175000},{"s":"AA","d":236,"v":198000},{"s":"AA","d":240,"v":170000},{"s":"AA","d":244,"v":200000},{"s":"AA","d":246,"v":175000},{"s":"AA","d":248,"v":201000},{"s":"AA","d":251,"v":170000},{"s":"AA","d":254,"v":150000},{"s":"AA","d":258,"v":140000},{"s":"AA","d":262,"v":132000},{"s":"AA","d":268,"v":125000},{"s":"AA","d":273,"v":118000},
{"s":"AB","d":46,"v":85000},{"s":"AB","d":51,"v":92000},{"s":"AB","d":56,"v":84000},{"s":"AB","d":61,"v":96000},{"s":"AB","d":66,"v":88000},{"s":"AB","d":71,"v":104000},{"s":"AB","d":76,"v":98000},{"s":"AB","d":81,"v":115000},{"s":"AB","d":86,"v":108000},{"s":"AB","d":91,"v":126000},{"s":"AB","d":96,"v":120000},{"s":"AB","d":101,"v":145000},{"s":"AB","d":106,"v":138000},{"s":"AB","d":111,"v":170000},{"s":"AB","d":116,"v":182000},{"s":"AB","d":121,"v":215000},{"s":"AB","d":126,"v":240000},{"s":"AB","d":131,"v":290000},{"s":"AB","d":136,"v":318000},{"s":"AB","d":141,"v":372000},{"s":"AB","d":146,"v":360000},{"s":"AB","d":151,"v":410000},{"s":"AB","d":156,"v":398000},{"s":"AB","d":161,"v":445000},{"s":"AB","d":166,"v":420000},{"s":"AB","d":171,"v":432000},{"s":"AB","d":176,"v":395000},{"s":"AB","d":181,"v":360000},{"s":"AB","d":186,"v":334000},{"s":"AB","d":191,"v":296000},{"s":"AB","d":196,"v":285000},{"s":"AB","d":201,"v":246000},{"s":"AB","d":206,"v":238000},{"s":"AB","d":211,"v":204000},{"s":"AB","d":216,"v":198000},{"s":"AB","d":221,"v":172000},{"s":"AB","d":226,"v":170000},{"s":"AB","d":231,"v":148000},{"s":"AB","d":236,"v":146000},{"s":"AB","d":241,"v":128000},{"s":"AB","d":246,"v":126000},{"s":"AB","d":251,"v":110000},{"s":"AB","d":256,"v":108000},{"s":"AB","d":261,"v":96000},{"s":"AB","d":266,"v":94000},{"s":"AB","d":271,"v":86000},{"s":"AB","d":273,"v":84000},
{"s":"AC","d":46,"v":86000},{"s":"AC","d":51,"v":128000},{"s":"AC","d":56,"v":116000},{"s":"AC","d":61,"v":134000},{"s":"AC","d":66,"v":122000},{"s":"AC","d":71,"v":150000},{"s":"AC","d":76,"v":138000},{"s":"AC","d":81,"v":166000},{"s":"AC","d":86,"v":158000},{"s":"AC","d":91,"v":196000},{"s":"AC","d":96,"v":190000},{"s":"AC","d":101,"v":232000},{"s":"AC","d":106,"v":226000},{"s":"AC","d":111,"v":278000},{"s":"AC","d":116,"v":300000},{"s":"AC","d":121,"v":352000},{"s":"AC","d":126,"v":338000},{"s":"AC","d":131,"v":398000},{"s":"AC","d":136,"v":382000},{"s":"AC","d":141,"v":430000},{"s":"AC","d":146,"v":402000},{"s":"AC","d":151,"v":436000},{"s":"AC","d":156,"v":398000},{"s":"AC","d":161,"v":404000},{"s":"AC","d":166,"v":360000},{"s":"AC","d":171,"v":356000},{"s":"AC","d":176,"v":310000},{"s":"AC","d":181,"v":298000},{"s":"AC","d":186,"v":262000},{"s":"AC","d":191,"v":250000},{"s":"AC","d":196,"v":222000},{"s":"AC","d":201,"v":214000},{"s":"AC","d":206,"v":190000},{"s":"AC","d":211,"v":184000},{"s":"AC","d":216,"v":163000},{"s":"AC","d":221,"v":158000},{"s":"AC","d":226,"v":140000},{"s":"AC","d":231,"v":136000},{"s":"AC","d":236,"v":121000},{"s":"AC","d":241,"v":118000},{"s":"AC","d":246,"v":106000},{"s":"AC","d":251,"v":103000},{"s":"AC","d":256,"v":94000},{"s":"AC","d":261,"v":92000},{"s":"AC","d":266,"v":84000},{"s":"AC","d":271,"v":82000},{"s":"AC","d":273,"v":80000},
{"s":"AD","d":46,"v":85000},{"s":"AD","d":51,"v":98000},{"s":"AD","d":56,"v":90000},{"s":"AD","d":61,"v":112000},{"s":"AD","d":66,"v":104000},{"s":"AD","d":71,"v":122000},{"s":"AD","d":76,"v":116000},{"s":"AD","d":81,"v":138000},{"s":"AD","d":86,"v":130000},{"s":"AD","d":91,"v":150000},{"s":"AD","d":96,"v":146000},{"s":"AD","d":101,"v":172000},{"s":"AD","d":106,"v":168000},{"s":"AD","d":111,"v":200000},{"s":"AD","d":116,"v":212000},{"s":"AD","d":121,"v":256000},{"s":"AD","d":126,"v":268000},{"s":"AD","d":131,"v":318000},{"s":"AD","d":136,"v":334000},{"s":"AD","d":141,"v":382000},{"s":"AD","d":146,"v":392000},{"s":"AD","d":151,"v":436000},{"s":"AD","d":156,"v":424000},{"s":"AD","d":161,"v":462000},{"s":"AD","d":166,"v":440000},{"s":"AD","d":171,"v":452000},{"s":"AD","d":176,"v":418000},{"s":"AD","d":181,"v":398000},{"s":"AD","d":186,"v":356000},{"s":"AD","d":191,"v":338000},{"s":"AD","d":196,"v":296000},{"s":"AD","d":201,"v":282000},{"s":"AD","d":206,"v":248000},{"s":"AD","d":211,"v":236000},{"s":"AD","d":216,"v":206000},{"s":"AD","d":221,"v":198000},{"s":"AD","d":226,"v":174000},{"s":"AD","d":231,"v":168000},{"s":"AD","d":236,"v":148000},{"s":"AD","d":241,"v":144000},{"s":"AD","d":246,"v":128000},{"s":"AD","d":251,"v":124000},{"s":"AD","d":256,"v":110000},{"s":"AD","d":261,"v":106000},{"s":"AD","d":266,"v":96000},{"s":"AD","d":271,"v":92000},{"s":"AD","d":273,"v":90000},
{"s":"AE","d":46,"v":84000},{"s":"AE","d":51,"v":88000},{"s":"AE","d":56,"v":80000},{"s":"AE","d":61,"v":86000},{"s":"AE","d":66,"v":78000},{"s":"AE","d":71,"v":92000},{"s":"AE","d":76,"v":86000},{"s":"AE","d":81,"v":98000},{"s":"AE","d":86,"v":94000},{"s":"AE","d":91,"v":112000},{"s":"AE","d":96,"v":110000},{"s":"AE","d":101,"v":134000},{"s":"AE","d":106,"v":140000},{"s":"AE","d":111,"v":172000},{"s":"AE","d":116,"v":190000},{"s":"AE","d":121,"v":238000},{"s":"AE","d":126,"v":262000},{"s":"AE","d":131,"v":318000},{"s":"AE","d":136,"v":346000},{"s":"AE","d":141,"v":398000},{"s":"AE","d":146,"v":410000},{"s":"AE","d":151,"v":452000},{"s":"AE","d":156,"v":438000},{"s":"AE","d":161,"v":470000},{"s":"AE","d":166,"v":444000},{"s":"AE","d":171,"v":438000},{"s":"AE","d":176,"v":392000},{"s":"AE","d":181,"v":376000},{"s":"AE","d":186,"v":326000},{"s":"AE","d":191,"v":314000},{"s":"AE","d":196,"v":270000},{"s":"AE","d":201,"v":262000},{"s":"AE","d":206,"v":224000},{"s":"AE","d":211,"v":216000},{"s":"AE","d":216,"v":188000},{"s":"AE","d":221,"v":182000},{"s":"AE","d":226,"v":158000},{"s":"AE","d":231,"v":154000},{"s":"AE","d":236,"v":134000},{"s":"AE","d":241,"v":130000},{"s":"AE","d":246,"v":114000},{"s":"AE","d":251,"v":112000},{"s":"AE","d":256,"v":98000},{"s":"AE","d":261,"v":96000},{"s":"AE","d":266,"v":86000},{"s":"AE","d":271,"v":84000},{"s":"AE","d":273,"v":82000},
{"s":"AF","d":46,"v":86000},{"s":"AF","d":51,"v":112000},{"s":"AF","d":56,"v":104000},{"s":"AF","d":61,"v":128000},{"s":"AF","d":66,"v":118000},{"s":"AF","d":71,"v":142000},{"s":"AF","d":76,"v":132000},{"s":"AF","d":81,"v":150000},{"s":"AF","d":86,"v":144000},{"s":"AF","d":91,"v":166000},{"s":"AF","d":96,"v":160000},{"s":"AF","d":101,"v":188000},{"s":"AF","d":106,"v":184000},{"s":"AF","d":111,"v":216000},{"s":"AF","d":116,"v":230000},{"s":"AF","d":121,"v":268000},{"s":"AF","d":126,"v":282000},{"s":"AF","d":131,"v":330000},{"s":"AF","d":136,"v":344000},{"s":"AF","d":141,"v":392000},{"s":"AF","d":146,"v":398000},{"s":"AF","d":151,"v":432000},{"s":"AF","d":156,"v":418000},{"s":"AF","d":161,"v":448000},{"s":"AF","d":166,"v":426000},{"s":"AF","d":171,"v":420000},{"s":"AF","d":176,"v":384000},{"s":"AF","d":181,"v":366000},{"s":"AF","d":186,"v":324000},{"s":"AF","d":191,"v":308000},{"s":"AF","d":196,"v":270000},{"s":"AF","d":201,"v":258000},{"s":"AF","d":206,"v":226000},{"s":"AF","d":211,"v":218000},{"s":"AF","d":216,"v":192000},{"s":"AF","d":221,"v":186000},{"s":"AF","d":226,"v":164000},{"s":"AF","d":231,"v":160000},{"s":"AF","d":236,"v":142000},{"s":"AF","d":241,"v":138000},{"s":"AF","d":246,"v":122000},{"s":"AF","d":251,"v":120000},{"s":"AF","d":256,"v":106000},{"s":"AF","d":261,"v":104000},{"s":"AF","d":266,"v":94000},{"s":"AF","d":271,"v":92000},{"s":"AF","d":273,"v":90000},
{"s":"AG","d":46,"v":85000},{"s":"AG","d":51,"v":104000},{"s":"AG","d":56,"v":96000},{"s":"AG","d":61,"v":118000},{"s":"AG","d":66,"v":110000},{"s":"AG","d":71,"v":128000},{"s":"AG","d":76,"v":122000},{"s":"AG","d":81,"v":142000},{"s":"AG","d":86,"v":136000},{"s":"AG","d":91,"v":160000},{"s":"AG","d":96,"v":156000},{"s":"AG","d":101,"v":186000},{"s":"AG","d":106,"v":190000},{"s":"AG","d":111,"v":234000},{"s":"AG","d":116,"v":256000},{"s":"AG","d":121,"v":306000},{"s":"AG","d":126,"v":322000},{"s":"AG","d":131,"v":376000},{"s":"AG","d":136,"v":388000},{"s":"AG","d":141,"v":432000},{"s":"AG","d":146,"v":424000},{"s":"AG","d":151,"v":456000},{"s":"AG","d":156,"v":434000},{"s":"AG","d":161,"v":440000},{"s":"AG","d":166,"v":404000},{"s":"AG","d":171,"v":390000},{"s":"AG","d":176,"v":346000},{"s":"AG","d":181,"v":322000},{"s":"AG","d":186,"v":284000},{"s":"AG","d":191,"v":266000},{"s":"AG","d":196,"v":236000},{"s":"AG","d":201,"v":224000},{"s":"AG","d":206,"v":198000},{"s":"AG","d":211,"v":190000},{"s":"AG","d":216,"v":168000},{"s":"AG","d":221,"v":162000},{"s":"AG","d":226,"v":144000},{"s":"AG","d":231,"v":140000},{"s":"AG","d":236,"v":126000},{"s":"AG","d":241,"v":122000},{"s":"AG","d":246,"v":110000},{"s":"AG","d":251,"v":106000},{"s":"AG","d":256,"v":96000},{"s":"AG","d":261,"v":94000},{"s":"AG","d":266,"v":86000},{"s":"AG","d":271,"v":84000},{"s":"AG","d":273,"v":82000}
],
"mn":[
{"d":0,"v":75000},{"d":1,"v":82000},{"d":10,"v":82000},{"d":20,"v":82000},{"d":30,"v":82000},{"d":31,"v":87000},{"d":32,"v":91000},{"d":33,"v":91000},{"d":34,"v":88000},{"d":36,"v":85000},{"d":38,"v":83000},{"d":42,"v":83000},{"d":45,"v":84000},{"d":47,"v":88000},{"d":49,"v":96000},{"d":51,"v":101000},{"d":55,"v":103000},{"d":60,"v":104000},{"d":64,"v":106000},{"d":70,"v":110000},{"d":75,"v":117000},{"d":80,"v":124000},{"d":85,"v":132000},{"d":88,"v":138000},{"d":95,"v":152000},{"d":100,"v":163000},{"d":104,"v":178000},{"d":109,"v":201000},{"d":113,"v":222000},{"d":117,"v":244000},{"d":122,"v":282000},{"d":128,"v":328000},{"d":132,"v":367000},{"d":137,"v":397000},{"d":143,"v":436000},{"d":148,"v":459000},{"d":151,"v":465000},{"d":155,"v":475000},{"d":158,"v":480000},{"d":161,"v":476000},{"d":164,"v":466000},{"d":167,"v":452000},{"d":170,"v":430000},{"d":174,"v":405000},{"d":178,"v":374000},{"d":182,"v":339000},{"d":187,"v":309000},{"d":190,"v":286000},{"d":194,"v":263000},{"d":199,"v":240000},{"d":203,"v":217000},{"d":206,"v":198000},{"d":211,"v":178000},{"d":216,"v":167000},{"d":221,"v":152000},{"d":227,"v":138000},{"d":232,"v":127000},{"d":237,"v":120000},{"d":243,"v":115000},{"d":248,"v":106000},{"d":254,"v":98000},{"d":260,"v":92000},{"d":266,"v":87000},{"d":273,"v":83000}
],
"rd":[
{"d":36,"v":82000},{"d":38,"v":79000},{"d":40,"v":79000},{"d":42,"v":80000},{"d":44,"v":82000},{"d":46,"v":85000},{"d":49,"v":88000},{"d":54,"v":88000},{"d":60,"v":88000},{"d":64,"v":87000},{"d":66,"v":85000},{"d":70,"v":87000},{"d":75,"v":92000},{"d":80,"v":98000},{"d":85,"v":105000},{"d":90,"v":113000}
],
"ob":[
{"d":0,"v":150000},{"d":1,"v":117000},{"d":2,"v":140000},{"d":3,"v":155000},{"d":4,"v":130000},{"d":5,"v":140000},{"d":6,"v":106000},{"d":7,"v":106000},{"d":8,"v":140000},{"d":9,"v":136000},{"d":10,"v":152000},{"d":11,"v":125000},{"d":12,"v":144000},{"d":13,"v":108000},{"d":14,"v":120000},{"d":15,"v":134000},{"d":16,"v":140000},{"d":17,"v":163000},{"d":18,"v":165000},{"d":19,"v":159000},{"d":20,"v":144000},{"d":21,"v":121000},{"d":22,"v":152000},{"d":23,"v":144000},{"d":24,"v":131000},{"d":25,"v":131000},{"d":26,"v":154000},{"d":27,"v":150000},{"d":28,"v":131000},{"d":29,"v":123000},{"d":30,"v":123000},{"d":31,"v":131000},{"d":32,"v":123000},{"d":33,"v":127000},{"d":34,"v":122000},{"d":35,"v":119000},{"d":36,"v":127000}
],
"lb":[
{"t":"Trace Selections:\u00a0 All Years"}
]
},
"layer":[
{"data":{"name":"tr"},"mark":{"type":"line","strokeWidth":2.4,"strokeJoin":"round"},"encoding":{
"x":{"field":"d","type":"quantitative","scale":{"domain":[0,272.5],"nice":false,"zero":false},"axis":{"values":[0,31,59,90,120,151,181,212,243],"labelExpr":"['1-Jan','1-Feb','1-Mar','1-Apr','1-May','1-Jun','1-Jul','1-Aug','1-Sep'][indexof([0,31,59,90,120,151,181,212,243],datum.value)]","title":null,"grid":true,"labelFontSize":23,"labelPadding":16,"tickSize":9}},
"y":{"field":"v","type":"quantitative","scale":{"domain":[0,900000],"nice":false},"axis":{"values":[0,100000,200000,300000,400000,500000,600000,700000,800000,900000],"format":"d","labelExpr":"datum.value==0?'':datum.label","title":"Discharge in cfs","titleFontSize":23,"titleFontWeight":"bold","titleX":-133,"titleY":395,"titleAngle":-90,"titleBaseline":"middle","titleAlign":"center","grid":true,"labelFontSize":22.5,"labelPadding":17,"tickSize":8}},
"color":{"field":"s","type":"nominal","legend":null,"scale":{"domain":["A","B","C","D","E","F","G","H","I","J","K","L","M","N","O","P","Q","R","S","T","U","V","W","X","Y","Z","AA","AB","AC","AD","AE","AF","AG"],"range":["#31859C","#C0504D","#B94A48","#E46C0A","#B3A2C7","#77933C","#6E8B3D","#93CDDD","#8064A2","#604A7B","#F79646","#FAC090","#95B3D7","#4BACC6","#D99694","#4F6228","#376092","#C3D69B","#9BBB59","#B65708","#CCC1DA","#4F81BD","#E6B9B8","#B7DEE8","#FCD5B5","#8EB4E3","#953735","#17375E","#8DB3E2","#F2DCDB","#DBEEF4","#CD7371","#729ACA"]}}}},
{"data":{"name":"mn"},"transform":[{"filter":"datum.d<=47"}],"mark":{"type":"line","color":"#C6CDDE","strokeWidth":4},"encoding":{"x":{"field":"d","type":"quantitative"},"y":{"field":"v","type":"quantitative"}}},
{"data":{"name":"mn"},"mark":{"type":"line","color":"#0000FF","strokeWidth":7,"strokeDash":[14,16],"strokeCap":"round","strokeJoin":"round"},"encoding":{"x":{"field":"d","type":"quantitative"},"y":{"field":"v","type":"quantitative"}}},
{"data":{"name":"rd"},"mark":{"type":"line","color":"#FF0000","strokeWidth":7.5,"strokeDash":[52,33],"strokeCap":"round","strokeJoin":"round"},"encoding":{"x":{"field":"d","type":"quantitative"},"y":{"field":"v","type":"quantitative"}}},
{"data":{"name":"ob"},"mark":{"type":"line","color":"#FFFF99","strokeWidth":6,"strokeJoin":"round","strokeCap":"round"},"encoding":{"x":{"field":"d","type":"quantitative"},"y":{"field":"v","type":"quantitative"}}},
{"data":{"name":"lb"},"mark":{"type":"text","align":"left","baseline":"alphabetic","fontSize":23,"font":"Lato","color":"#000000"},"encoding":{"x":{"datum":10.9,"type":"quantitative"},"y":{"datum":823000,"type":"quantitative"},"text":{"field":"t","type":"nominal"}}}
]
}
